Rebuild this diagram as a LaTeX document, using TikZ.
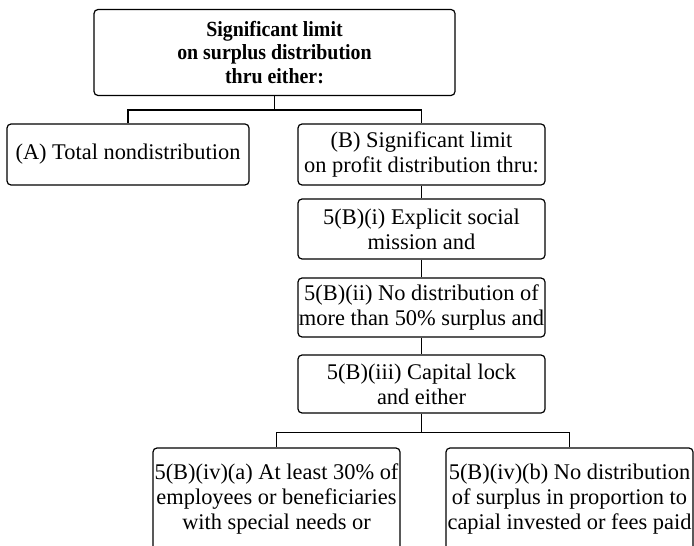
\documentclass[tikz,border=0pt]{standalone}
\usepackage{fontspec}
\setmainfont{Liberation Serif}
\newfontfamily\headfont[FakeStretch=0.92]{Liberation Serif}

\begin{document}
\begin{tikzpicture}[x=0.5pt, y=-0.5pt, line width=0.6pt,
		box/.style={draw, rounded corners=2pt, align=center, inner sep=0pt,
			minimum width=123.5pt, font=\fontsize{11.2}{12.5}\selectfont},
		headbox/.style={box, font=\headfont\bfseries\fontsize{10.8}{11.7}\selectfont}]
		\useasboundingbox (0,0) rectangle (694,545);
		
		\node[headbox, minimum width=180.5pt, minimum height=43pt] (n0) at (274.5,52.5) {Significant limit\\on surplus distribution\\thru either:};
		\node[box, minimum width=121pt, minimum height=30.5pt] (nA) at (128,154.5) {(A) Total nondistribution};
		\node[box, minimum height=30.5pt] (nB) at (421.5,154.5) {(B) Significant limit\\on profit distribution thru:};
		\node[box, minimum height=30pt] (n1) at (421.5,229) {5(B)(i) Explicit social\\mission and};
		\node[box, minimum height=29.5pt] (n2) at (421.5,307.5) {5(B)(ii) No distribution of\\more than 50\% surplus and};
		\node[box, minimum height=29pt] (n3) at (421.5,384) {5(B)(iii) Capital lock\\and either};
		\node[box, minimum height=51pt] (n4a) at (276.5,499) {5(B)(iv)(a) At least 30\% of\\employees or beneficiaries\\with special needs or};
		\node[box, minimum height=51pt] (n4b) at (569.5,499) {5(B)(iv)(b) No distribution\\of surplus in proportion to\\capial invested or fees paid};
		
		\draw[-] (n0.south) -- ++(0,14) -| (nA.north);
		\draw[-] (n0.south) -- ++(0,14) -| (nB.north);
		\draw[-] (nB) -- (n1);
		\draw[-] (n1) -- (n2);
		\draw[-] (n2) -- (n3);
		\draw[-] (n3.south) -- ++(0,19) -| (n4a.north);
		\draw[-] (n3.south) -- ++(0,19) -| (n4b.north);
\end{tikzpicture}
\end{document}
